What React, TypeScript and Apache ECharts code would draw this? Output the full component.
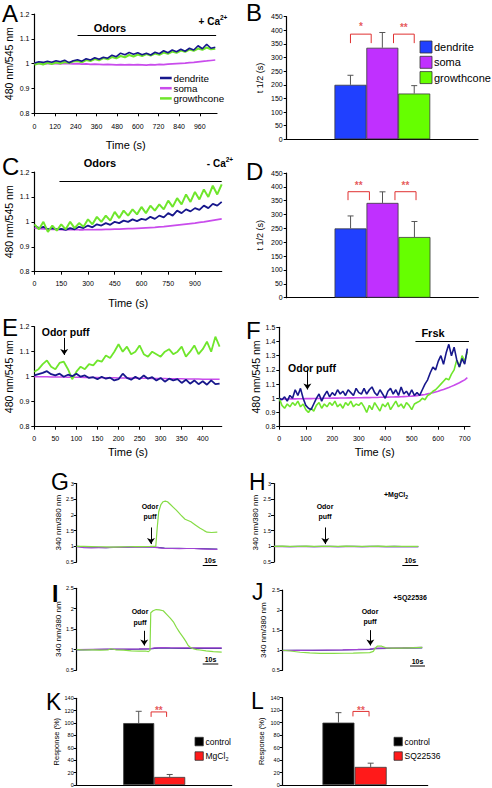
import React, { useEffect, useRef } from 'react';
import * as echarts from 'echarts';

const FONT = 'Liberation Sans, Arial, sans-serif';

const COL_DEND = '#17178c';
const COL_SOMA = '#c94cec';
const COL_GROW = '#6fe62c';
const COL_DEND2 = '#35358f';
const COL_SOMA2 = '#a144d4';
const COL_GROW2 = '#86dc46';
const BAR_COLORS = ['#2040ff', '#c030ff', '#66ff00'];
const KL_COLORS = ['#000000', '#ff1a1a'];
const COL_SIG = '#e03030';

// ===== Panel A (+Ca2+), sampled every 25 s =====
const A_STEP = 25;
const A_DENDRITE = [
  1.003, 1.008, 1.005, 1.010, 1.006, 1.012, 1.008, 1.014, 1.004, 1.012,
  1.016, 1.010, 1.020, 1.015, 1.024, 1.018, 1.026, 1.022, 1.034, 1.028,
  1.042, 1.036, 1.045, 1.038, 1.044, 1.036, 1.042, 1.035, 1.046, 1.040,
  1.052, 1.044, 1.055, 1.048, 1.058, 1.050, 1.062, 1.055, 1.072, 1.060,
  1.078, 1.062, 1.066];
const A_GROWTH = [
  0.996, 1.002, 0.997, 1.004, 0.999, 1.005, 1.001, 1.007, 1.003, 1.009,
  1.011, 1.006, 1.015, 1.011, 1.019, 1.014, 1.023, 1.018, 1.027, 1.022,
  1.031, 1.026, 1.035, 1.029, 1.037, 1.031, 1.039, 1.033, 1.041, 1.036,
  1.045, 1.040, 1.049, 1.044, 1.053, 1.048, 1.057, 1.052, 1.061, 1.056,
  1.065, 1.058, 1.060];
const A_SOMA = [
  1.000, 1.001, 0.999, 1.000, 1.001, 1.000, 0.999, 1.001, 1.000, 0.999,
  1.000, 0.998, 0.999, 0.997, 0.998, 0.997, 0.996, 0.997, 0.996, 0.995,
  0.996, 0.995, 0.996, 0.995, 0.996, 0.995, 0.994, 0.996, 0.995, 0.997,
  0.996, 0.998, 0.999, 1.000, 1.001, 1.002, 1.004, 1.005, 1.007, 1.009,
  1.011, 1.013, 1.015];

// ===== Panel C (-Ca2+), sampled every 25 s =====
const C_STEP = 25;
const C_GROWTH = [
  0.99, 0.97, 1.00, 0.96, 0.985, 0.965, 0.99, 0.97, 1.00, 0.975,
  0.995, 0.98, 1.01, 0.99, 1.02, 1.00, 1.025, 1.005, 1.04, 1.015,
  1.045, 1.025, 1.05, 1.03, 1.06, 1.035, 1.065, 1.045, 1.07, 1.05,
  1.085, 1.06, 1.095, 1.07, 1.11, 1.08, 1.12, 1.09, 1.13, 1.10,
  1.145, 1.11, 1.15];
const C_DENDRITE = [
  0.985, 0.975, 0.98, 0.97, 0.975, 0.97, 0.972, 0.968, 0.975, 0.97,
  0.98, 0.975, 0.985, 0.978, 0.99, 0.985, 0.995, 0.988, 1.0, 0.995,
  1.005, 1.0, 1.01, 1.003, 1.012, 1.008, 1.02, 1.012, 1.025, 1.018,
  1.035, 1.025, 1.045, 1.035, 1.05, 1.042, 1.055, 1.048, 1.065, 1.055,
  1.072, 1.065, 1.08];
const C_SOMA = [
  0.975, 0.973, 0.972, 0.971, 0.970, 0.970, 0.969, 0.969, 0.968, 0.969,
  0.968, 0.968, 0.969, 0.968, 0.969, 0.969, 0.970, 0.970, 0.971, 0.971,
  0.972, 0.973, 0.973, 0.974, 0.975, 0.976, 0.977, 0.978, 0.980, 0.981,
  0.983, 0.985, 0.987, 0.989, 0.991, 0.993, 0.995, 0.998, 1.000, 1.003,
  1.006, 1.009, 1.012];

// ===== Panel E (odor puff), sampled every 10 s =====
const E_STEP = 10;
const E_GROWTH = [
  1.02, 1.03, 1.05, 1.065, 1.04, 1.03, 1.055, 1.06, 1.03, 0.99,
  1.02, 1.04, 1.03, 1.05, 1.045, 1.065, 1.06, 1.085, 1.075, 1.1,
  1.13, 1.1, 1.12, 1.09, 1.1, 1.125, 1.09, 1.08, 1.1, 1.09,
  1.08, 1.1, 1.11, 1.09, 1.1, 1.12, 1.08, 1.1, 1.125, 1.09,
  1.11, 1.14, 1.1, 1.16, 1.12];
const E_DENDRITE = [
  1.005, 1.01, 1.015, 1.022, 1.01, 1.005, 1.012, 1.0, 1.008, 1.002,
  1.012, 1.0, 1.005, 0.995, 0.998, 0.99, 1.0, 0.992, 0.996, 0.985,
  0.99, 1.012, 0.995, 0.988, 1.0, 0.99, 1.005, 0.992, 0.998, 0.985,
  0.995, 0.98, 0.992, 0.985, 0.99, 0.975, 0.988, 0.972, 0.985, 0.97,
  0.982, 0.968, 0.985, 0.97, 0.972];
const E_SOMA = [
  1.0, 1.0, 1.0, 1.0, 0.999, 0.999, 0.999, 0.999, 0.998, 0.998,
  0.998, 0.998, 0.997, 0.997, 0.997, 0.997, 0.996, 0.996, 0.996, 0.996,
  0.995, 0.995, 0.995, 0.995, 0.994, 0.994, 0.994, 0.994, 0.993, 0.993,
  0.993, 0.993, 0.992, 0.992, 0.992, 0.992, 0.991, 0.991, 0.991, 0.991,
  0.990, 0.990, 0.990, 0.990, 0.990];

// ===== Panel F (odor puff + forskolin), sampled every 10 s =====
const F_STEP = 10;
const F_DENDRITE = [
  1.0, 0.99, 1.01, 0.98, 1.02, 1.0, 1.06, 1.02, 1.07, 1.0,
  0.95, 0.93, 0.92, 0.96, 1.0, 1.03, 0.98, 1.02, 1.05, 1.01,
  1.04, 1.02, 1.06, 1.03, 1.05, 1.02, 1.06, 1.04, 1.02, 1.07,
  1.04, 1.03, 1.07, 1.03, 1.06, 1.08, 1.04, 1.02, 1.06, 1.03,
  1.0, 1.05, 1.07, 1.03, 1.06, 1.02, 1.08, 1.03, 1.05, 1.02,
  1.06, 1.02, 1.04, 1.02, 1.06, 1.1, 1.13, 1.18, 1.22, 1.2,
  1.26, 1.3, 1.24, 1.32, 1.38, 1.3, 1.36, 1.27, 1.22, 1.28,
  1.24, 1.35];
const F_GROWTH = [
  1.0, 0.95, 0.93, 0.96, 0.94, 0.97, 0.95, 0.98, 0.94, 0.96,
  0.92, 0.9, 0.93, 0.91, 0.95, 0.97, 0.93, 0.96, 0.94, 0.97,
  0.95, 0.98, 0.94, 0.96, 0.93, 0.97, 0.95, 0.98, 0.94, 0.96,
  0.95, 0.97, 0.94, 0.9, 0.95, 0.92, 0.97, 0.94, 0.91, 0.96,
  0.94, 0.97, 0.92, 0.95, 0.98, 0.94, 0.96, 0.93, 0.97, 0.95,
  0.92, 0.96, 0.97, 0.98, 1.0, 0.99, 1.02, 1.03, 1.05, 1.06,
  1.08, 1.1, 1.12, 1.14, 1.13, 1.17, 1.2, 1.27, 1.22, 1.3,
  1.26, 1.33];
const F_SOMA = [
  0.995, 0.995, 0.995, 0.995, 0.996, 0.996, 0.996, 0.997, 0.997, 0.997,
  0.998, 0.998, 0.998, 0.999, 0.999, 0.999, 1.0, 1.0, 1.0, 1.0,
  1.001, 1.001, 1.001, 1.002, 1.002, 1.002, 1.003, 1.003, 1.003, 1.004,
  1.004, 1.004, 1.005, 1.005, 1.005, 1.006, 1.006, 1.006, 1.007, 1.007,
  1.008, 1.008, 1.009, 1.009, 1.01, 1.01, 1.011, 1.012, 1.013, 1.014,
  1.015, 1.017, 1.019, 1.021, 1.024, 1.027, 1.031, 1.035, 1.04, 1.045,
  1.05, 1.056, 1.062, 1.069, 1.076, 1.084, 1.092, 1.101, 1.11, 1.12,
  1.13, 1.145];

// ===== Panels B / D: t1/2 bars =====
const COMPARTMENTS = ['dendrite', 'soma', 'growthcone'];
const B_MEAN = [200, 336, 168];
const B_SEM = [35, 56, 29];
const B_SIG = ['*', '**'];
const D_MEAN = [250, 342, 219];
const D_SEM = [45, 40, 56];
const D_SIG = ['**', '**'];

// ===== Panel G (fura-2, odor puff) =====
const G_GREEN_T = [0, 5, 10, 15, 20, 25, 30, 35, 40, 45, 50, 54, 55, 56, 57.5, 59, 60.5, 62, 64, 66, 68, 71, 74, 76, 78, 81, 84, 87, 89, 92, 96];
const G_GREEN = [1.0, 0.995, 0.99, 0.985, 0.98, 0.975, 0.98, 0.985, 0.99, 0.99, 0.995, 1.0, 1.6, 2.1, 2.33, 2.42, 2.44, 2.42, 2.33, 2.24, 2.15, 2.0, 1.86, 1.82, 1.78, 1.68, 1.58, 1.5, 1.45, 1.44, 1.45];
const G_LOW_T = [0, 5, 10, 15, 20, 25, 30, 35, 40, 45, 50, 55, 60, 65, 70, 75, 80, 85, 90, 96];
const G_PURPLE = [0.99, 0.96, 0.95, 0.955, 0.96, 0.97, 0.965, 0.97, 0.975, 0.975, 0.98, 0.96, 0.93, 0.93, 0.925, 0.93, 0.93, 0.92, 0.91, 0.9];
const G_BLUE = [1.0, 0.98, 0.97, 0.965, 0.96, 0.965, 0.97, 0.975, 0.98, 0.98, 0.985, 0.965, 0.94, 0.935, 0.935, 0.93, 0.93, 0.925, 0.92, 0.91];

// ===== Panel H (+MgCl2) =====
const H_T = [0, 5, 10, 15, 20, 25, 30, 35, 40, 45, 50, 55, 60, 65, 70, 75, 80, 85, 90];
const H_GREEN = [1.0, 1.005, 0.995, 1.0, 1.005, 0.995, 1.0, 1.0, 0.995, 1.005, 1.0, 0.995, 1.0, 1.005, 0.995, 1.0, 0.995, 0.995, 0.995];
const H_PURPLE = [0.99, 0.99, 0.985, 0.99, 0.99, 0.985, 0.99, 0.99, 0.985, 0.99, 0.99, 0.985, 0.99, 0.99, 0.985, 0.99, 0.985, 0.985, 0.985];
const H_BLUE = [0.995, 0.995, 0.99, 0.995, 0.995, 0.99, 0.995, 0.995, 0.99, 0.995, 0.995, 0.99, 0.995, 0.995, 0.99, 0.995, 0.99, 0.99, 0.99];

// ===== Panel I =====
const I_GREEN_T = [0, 5, 10, 15, 20, 22, 25, 30, 35, 40, 44, 46, 47, 47.5, 49, 51, 53, 55.5, 58, 60, 62, 64, 66, 68.3, 70, 71.5, 73, 74.7, 77, 79, 83, 87.6, 93];
const I_GREEN = [1.0, 0.99, 0.995, 0.985, 0.99, 1.02, 0.995, 0.985, 0.97, 0.96, 0.965, 0.95, 0.98, 1.9, 1.95, 1.98, 1.97, 1.95, 1.85, 1.77, 1.68, 1.54, 1.42, 1.3, 1.2, 1.1, 1.05, 1.02, 1.0, 0.99, 0.97, 0.95, 0.94];
const I_LOW_T = [0, 10, 20, 30, 40, 47, 50, 55, 60, 70, 80, 93];
const I_PURPLE = [1.0, 1.005, 1.01, 1.01, 1.015, 1.02, 1.04, 1.05, 1.045, 1.04, 1.04, 1.04];
const I_BLUE = [0.995, 1.0, 1.005, 1.005, 1.01, 1.015, 1.03, 1.04, 1.035, 1.03, 1.03, 1.03];

// ===== Panel J (+SQ22536) =====
const J_GREEN_T = [0, 5, 11.6, 18, 25, 34, 41, 47, 52, 58, 60.4, 61.6, 63, 66, 69, 73, 78, 85, 93];
const J_GREEN = [1.0, 0.98, 0.95, 0.935, 0.92, 0.92, 0.925, 0.93, 0.935, 0.94, 0.97, 1.05, 1.1, 1.1, 1.06, 1.05, 1.05, 1.06, 1.07];
const J_LOW_T = [0, 10, 20, 30, 40, 50, 58, 62, 70, 80, 93];
const J_PURPLE = [0.99, 0.995, 1.0, 1.005, 1.01, 1.02, 1.03, 1.05, 1.05, 1.06, 1.07];
const J_BLUE = [1.0, 0.995, 0.995, 1.0, 1.005, 1.015, 1.02, 1.04, 1.045, 1.05, 1.06];

// ===== Panels K / L: response bars =====
const K_GROUPS = ['control', 'MgCl2'];
const K_MEAN = [100, 13];
const K_SEM = [19, 4];
const L_GROUPS = ['control', 'SQ22536'];
const L_MEAN = [100, 29];
const L_SEM = [16, 6];

function buildOption() {
  const grid: any[] = [];
  const xAxis: any[] = [];
  const yAxis: any[] = [];
  const series: any[] = [];
  const elements: any[] = [];

  const panel = (rect: any, x: any, y: any) => {
    const gi = grid.length;
    grid.push(rect);
    xAxis.push({ gridIndex: gi, ...x });
    yAxis.push({ gridIndex: gi, ...y });
    return gi;
  };
  const axisLine = (w = 1.2) => ({ show: true, onZero: false, lineStyle: { color: '#000', width: w } });
  const tick = (len = 3) => ({ show: true, length: len, lineStyle: { color: '#000', width: 1 } });
  const timeX = (max: number, interval: number, nameGap: number, margin: number) => ({
    type: 'value', min: 0, max, interval,
    axisLine: axisLine(), axisTick: tick(3),
    axisLabel: { fontSize: 7, color: '#000', margin, showMaxLabel: false, fontFamily: FONT },
    splitLine: { show: false },
    name: 'Time (s)', nameLocation: 'middle', nameGap,
    nameTextStyle: { fontSize: 11, color: '#000', fontFamily: FONT },
  });
  const valY = (min: number, max: number, interval: number, name: string, nameGap: number, nameSize: number, labelSize: number, margin: number) => ({
    type: 'value', min, max, interval,
    axisLine: axisLine(), axisTick: tick(3),
    axisLabel: { fontSize: labelSize, color: '#000', margin, fontFamily: FONT },
    splitLine: { show: false },
    name, nameLocation: 'middle', nameGap,
    nameTextStyle: { fontSize: nameSize, color: '#000', fontFamily: FONT },
  });
  const hiddenX = (min: number, max: number) => ({ type: 'value', min, max, show: false });
  const barX = (min: number, max: number) => ({
    type: 'value', min, max, axisLine: axisLine(), axisTick: { show: false },
    axisLabel: { show: false }, splitLine: { show: false },
  });
  const uniform = (step: number, vals: number[]) => vals.map((v, i) => [i * step, v]);
  const paired = (ts: number[], vals: number[]) => ts.map((t, i) => [t, vals[i]]);
  const line = (gi: number, name: string, pts: number[][], color: string, width: number, z: number, extra: any = {}) => ({
    type: 'line', name, xAxisIndex: gi, yAxisIndex: gi, data: pts, symbol: 'none', showSymbol: false,
    lineStyle: { color, width }, itemStyle: { color }, z, silent: true, ...extra,
  });
  const marks = (segs: any[]) => ({
    silent: true, animation: false, label: { show: false },
    lineStyle: { color: '#000', width: 1, type: 'solid' },
    emphasis: { disabled: true },
    data: segs.map(([x1, y1, x2, y2, arrow]) => [
      { coord: [x1, y1], symbol: 'none' },
      { coord: [x2, y2], symbol: arrow ? 'arrow' : 'none', symbolSize: 6 },
    ]),
  });
  const errRender = (params: any, api: any) => {
    const top = api.coord([api.value(0), api.value(1)]);
    const end = api.coord([api.value(0), api.value(2)]);
    return {
      type: 'group',
      children: [
        { type: 'line', shape: { x1: top[0], y1: top[1], x2: end[0], y2: end[1] }, style: { stroke: '#555', lineWidth: 1 } },
        { type: 'line', shape: { x1: end[0] - 3, y1: end[1], x2: end[0] + 3, y2: end[1] }, style: { stroke: '#555', lineWidth: 1 } },
      ],
    };
  };
  const addBars = (gi: number, names: string[], means: number[], sems: number[], colors: string[], width: number) => {
    names.forEach((n, i) => series.push({
      type: 'bar', name: n, xAxisIndex: gi, yAxisIndex: gi, data: [[i + 1, means[i]]],
      barWidth: width, barGap: '-100%', silent: true, z: 2,
      itemStyle: { color: colors[i], borderColor: '#3a3a3a', borderWidth: 0.8 },
    }));
    series.push({
      type: 'custom', xAxisIndex: gi, yAxisIndex: gi, silent: true, z: 3,
      data: means.map((m, i) => [i + 1, m, m + sems[i]]), renderItem: errRender,
    });
  };
  const addBracket = (gi: number, x1: number, x2: number, base: number, top: number, label: string, labelY: number) => {
    series.push({
      type: 'line', xAxisIndex: gi, yAxisIndex: gi, symbol: 'none', silent: true, z: 4,
      data: [[x1, base], [x1, top], [x2, top], [x2, base]],
      lineStyle: { color: COL_SIG, width: 1 },
    });
    series.push({
      type: 'scatter', xAxisIndex: gi, yAxisIndex: gi, silent: true, z: 4,
      data: [[(x1 + x2) / 2, labelY]], symbolSize: 1, itemStyle: { color: 'rgba(0,0,0,0)' },
      label: { show: true, position: 'inside', formatter: label, color: COL_SIG, fontSize: 10, fontWeight: 'bold', fontFamily: FONT, offset: [0, 2.5] },
    });
  };
  const txt = (x: number, y: number, text: string, fontSize: number, extra: any = {}) => {
    const align = extra.align || 'center';
    return {
      type: 'text', x, y, silent: true,
      style: {
        text, fontSize, fontFamily: FONT, fill: extra.fill || '#000', fontWeight: extra.bold ? 'bold' : 'normal',
        align, textAlign: align, verticalAlign: 'middle', textVerticalAlign: 'middle',
      },
    };
  };
  const hline = (x1: number, x2: number, y: number, w = 1, color = '#000') => ({
    type: 'line', silent: true, shape: { x1, y1: y, x2, y2: y }, style: { stroke: color, lineWidth: w },
  });
  const box = (x: number, y: number, w: number, h: number, fill: string) => ({
    type: 'rect', silent: true, shape: { x, y, width: w, height: h }, style: { fill, stroke: '#333', lineWidth: 0.8 },
  });

  // ---- A ----
  const gA = panel({ left: 34.5, top: 14, width: 182.5, height: 99.3 }, timeX(1060, 120, 26, 10), valY(0.8, 1.2, 0.1, '480 nm/545 nm', 20, 10.5, 7, 5));
  series.push(line(gA, 'soma', uniform(A_STEP, A_SOMA), COL_SOMA, 1.6, 2, { markLine: marks([[250, 1.116, 1055, 1.116, false]]) }));
  series.push(line(gA, 'growthcone', uniform(A_STEP, A_GROWTH), COL_GROW, 2.2, 3));
  series.push(line(gA, 'dendrite', uniform(A_STEP, A_DENDRITE), COL_DEND, 1.6, 4));

  // ---- B ----
  const gB = panel({ left: 286.7, top: 16.7, width: 191.3, height: 122.6 }, barX(-1, 5), valY(0, 450, 50, 't 1/2 (s)', 22, 9, 7, 4));
  addBars(gB, COMPARTMENTS, B_MEAN, B_SEM, BAR_COLORS, 32);
  addBracket(gB, 1, 1.65, 353, 386, B_SIG[0], 423);
  addBracket(gB, 2.35, 3, 353, 386, B_SIG[1], 420);

  // ---- C ----
  const gC = panel({ left: 34.5, top: 172, width: 187.2, height: 99.7 }, timeX(1050, 150, 26, 8), valY(0.8, 1.2, 0.1, '480 nm/545 nm', 20, 10.5, 7, 5));
  series.push(line(gC, 'soma', uniform(C_STEP, C_SOMA), COL_SOMA, 1.6, 2, { markLine: marks([[140, 1.161, 1050, 1.161, false]]) }));
  series.push(line(gC, 'dendrite', uniform(C_STEP, C_DENDRITE), COL_DEND, 1.8, 3));
  series.push(line(gC, 'growthcone', uniform(C_STEP, C_GROWTH), COL_GROW, 2, 4));

  // ---- D ----
  const gD = panel({ left: 286.7, top: 173, width: 191.6, height: 124.7 }, barX(-1, 5), valY(0, 450, 50, 't 1/2 (s)', 22, 9, 7, 4));
  addBars(gD, COMPARTMENTS, D_MEAN, D_SEM, BAR_COLORS, 32);
  addBracket(gD, 0.92, 1.59, 352, 382.5, D_SIG[0], 415);
  addBracket(gD, 2.39, 3.05, 352, 382.5, D_SIG[1], 415);

  // ---- E ----
  const gE = panel({ left: 34.3, top: 326.7, width: 187.4, height: 100 }, timeX(445, 50, 19.5, 8), valY(0.8, 1.2, 0.1, '480 nm/545 nm', 20, 10.5, 7, 5));
  series.push(line(gE, 'soma', uniform(E_STEP, E_SOMA), COL_SOMA, 1.6, 2, { markLine: marks([[71, 1.155, 71, 1.087, true]]) }));
  series.push(line(gE, 'growthcone', uniform(E_STEP, E_GROWTH), COL_GROW, 1.8, 3));
  series.push(line(gE, 'dendrite', uniform(E_STEP, E_DENDRITE), COL_DEND, 1.8, 4));

  // ---- F ----
  const gF = panel({ left: 279.3, top: 327.3, width: 190.7, height: 99.4 }, timeX(720, 100, 19.5, 8), valY(0.8, 1.5, 0.1, '480 nm/545 nm', 16, 10.5, 7, 4));
  series.push(line(gF, 'soma', uniform(F_STEP, F_SOMA), COL_SOMA, 1.6, 2, { markLine: marks([[514, 1.4, 716, 1.4, false], [106, 1.197, 106, 1.062, true]]) }));
  series.push(line(gF, 'growthcone', uniform(F_STEP, F_GROWTH), COL_GROW, 1.6, 3));
  series.push(line(gF, 'dendrite', uniform(F_STEP, F_DENDRITE), COL_DEND, 1.6, 4));

  // ---- G ----
  const gG = panel({ left: 76.7, top: 483.5, width: 140.6, height: 78.5 }, hiddenX(0, 96), valY(0.5, 3, 0.5, '340 nm/380 nm', 13, 8, 5.5, 3));
  series.push(line(gG, 'blue', paired(G_LOW_T, G_BLUE), COL_DEND2, 1.2, 2, { markLine: marks([[50.7, 1.6, 50.7, 1.07, true]]) }));
  series.push(line(gG, 'purple', paired(G_LOW_T, G_PURPLE), COL_SOMA2, 1.2, 3));
  series.push(line(gG, 'green', paired(G_GREEN_T, G_GREEN), COL_GROW2, 1.2, 4));

  // ---- H ----
  const gH = panel({ left: 274, top: 483.5, width: 144.3, height: 78.5 }, hiddenX(0, 90), valY(0.5, 3, 0.5, '340 nm/380 nm', 11, 8, 5.5, 3));
  series.push(line(gH, 'blue', paired(H_T, H_BLUE), COL_DEND2, 1.2, 2, { markLine: marks([[32, 1.6, 32, 1.07, true]]) }));
  series.push(line(gH, 'purple', paired(H_T, H_PURPLE), COL_SOMA2, 1.2, 3));
  series.push(line(gH, 'green', paired(H_T, H_GREEN), COL_GROW2, 1.2, 4));

  // ---- I ----
  const gI = panel({ left: 76.7, top: 588.3, width: 145, height: 81.7 }, hiddenX(0, 93), valY(0.5, 2.5, 0.5, '340 nm/380 nm', 13, 8, 5.5, 3));
  series.push(line(gI, 'blue', paired(I_LOW_T, I_BLUE), COL_DEND2, 1.2, 2, { markLine: marks([[43.3, 1.46, 43.3, 1.1, true]]) }));
  series.push(line(gI, 'purple', paired(I_LOW_T, I_PURPLE), COL_SOMA2, 1.2, 3));
  series.push(line(gI, 'green', paired(I_GREEN_T, I_GREEN), COL_GROW2, 1.2, 4));

  // ---- J ----
  const gJ = panel({ left: 282.7, top: 590, width: 140, height: 80.3 }, hiddenX(0, 93.3), valY(0.5, 2.5, 0.5, '340 nm/380 nm', 15, 8, 5.5, 3));
  series.push(line(gJ, 'blue', paired(J_LOW_T, J_BLUE), COL_DEND2, 1.2, 2, { markLine: marks([[58.4, 1.5, 58.4, 1.12, true]]) }));
  series.push(line(gJ, 'purple', paired(J_LOW_T, J_PURPLE), COL_SOMA2, 1.2, 3));
  series.push(line(gJ, 'green', paired(J_GREEN_T, J_GREEN), COL_GROW2, 1.2, 4));

  // ---- K ----
  const gK = panel({ left: 76.7, top: 698.3, width: 155, height: 86.7 }, barX(-1, 4), valY(0, 140, 20, 'Response (%)', 16, 7.5, 5.5, 3));
  addBars(gK, K_GROUPS, K_MEAN, K_SEM, KL_COLORS, 31);
  addBracket(gK, 1.4, 1.9, 110, 118, '**', 125);

  // ---- L ----
  const gL = panel({ left: 282.7, top: 697.7, width: 145, height: 88.3 }, barX(-0.73, 3.77), valY(0, 140, 20, 'Response (%)', 17, 7.5, 5.5, 3));
  addBars(gL, L_GROUPS, L_MEAN, L_SEM, KL_COLORS, 32);
  addBracket(gL, 1.45, 1.95, 110, 118, '**', 124);

  // ---- panel letters ----
  const big = 24, small = 23;
  elements.push(txt(2, 13.5, 'A', big, { align: 'left' }));
  elements.push(txt(246, 12.5, 'B', big, { align: 'left' }));
  elements.push(txt(2, 166.7, 'C', big, { align: 'left' }));
  elements.push(txt(246, 171.7, 'D', big, { align: 'left' }));
  elements.push(txt(2, 327.5, 'E', big, { align: 'left' }));
  elements.push(txt(246, 330, 'F', big, { align: 'left' }));
  elements.push(txt(51, 481.5, 'G', small, { align: 'left' }));
  elements.push(txt(249, 481.5, 'H', small, { align: 'left' }));
  elements.push(txt(52, 593.5, 'I', small, { align: 'left', bold: true }));
  elements.push(txt(252, 591.5, 'J', small, { align: 'left' }));
  elements.push(txt(46, 701.5, 'K', small, { align: 'left' }));
  elements.push(txt(251, 700.5, 'L', small, { align: 'left' }));

  // ---- annotations ----
  elements.push(txt(110, 28.3, 'Odors', 11, { bold: true }));
  elements.push(txt(198.6, 21, '+ Ca', 10, { bold: true, align: 'left' }));
  elements.push(txt(220, 17.5, '2+', 6.5, { bold: true, align: 'left' }));
  elements.push(txt(100, 163, 'Odors', 11, { bold: true }));
  elements.push(txt(206.8, 163, '- Ca', 10, { bold: true, align: 'left' }));
  elements.push(txt(225.7, 159.5, '2+', 6.5, { bold: true, align: 'left' }));
  elements.push(txt(65.7, 331.7, 'Odor puff', 10.5, { bold: true }));
  elements.push(txt(312, 367.7, 'Odor puff', 10.5, { bold: true }));
  elements.push(txt(433, 332.7, 'Frsk', 11, { bold: true }));
  const puff = (x: number, y1: number, y2: number) => {
    elements.push(txt(x, y1, 'Odor', 7, { bold: true }));
    elements.push(txt(x, y2, 'puff', 7, { bold: true }));
  };
  puff(150, 506.7, 516.7);
  puff(325, 506.7, 516.7);
  puff(140, 611.7, 622.3);
  puff(370, 611, 621);
  elements.push(txt(384, 494.3, '+MgCl', 7, { bold: true, align: 'left' }));
  elements.push(txt(405.2, 496.5, '2', 5, { bold: true, align: 'left' }));
  elements.push(txt(410, 597.7, '+SQ22536', 7, { bold: true }));
  const scale = (x1: number, x2: number, ty: number, ly: number) => {
    elements.push(txt((x1 + x2) / 2, ty, '10s', 7, { bold: true }));
    elements.push(hline(x1, x2, ly, 1));
  };
  scale(202.7, 217.3, 560.5, 565.5);
  scale(402.3, 418.3, 560.5, 565.5);
  scale(202.7, 218.3, 659, 664);
  scale(410, 425, 661, 666);

  // ---- legends ----
  const lineLegend = [COL_DEND, COL_SOMA, COL_GROW];
  COMPARTMENTS.forEach((n, i) => {
    const y = 78 + i * 10.2;
    elements.push(hline(160, 171.7, y, 2.5, lineLegend[i]));
    elements.push(txt(173.5, y, n, 9.8, { align: 'left' }));
  });
  COMPARTMENTS.forEach((n, i) => {
    const y = 41 + i * 15.3;
    elements.push(box(420, y, 12, 12, BAR_COLORS[i]));
    elements.push(txt(434, y + 6, n, 11, { align: 'left' }));
  });
  [0, 1].forEach((i) => {
    const y = 737.3 + i * 14.5;
    elements.push(box(195, y, 8.3, 8.5, KL_COLORS[i]));
    elements.push(box(394, y, 8.3, 8.5, KL_COLORS[i]));
    elements.push(txt(404.5, y + 4.3, L_GROUPS[i], 8.5, { align: 'left' }));
  });
  elements.push(txt(205.5, 741.6, K_GROUPS[0], 8.5, { align: 'left' }));
  elements.push(txt(205.5, 756.1, 'MgCl', 8.5, { align: 'left' }));
  elements.push(txt(225.5, 758.6, '2', 5.5, { align: 'left' }));

  return {
    animation: false,
    backgroundColor: '#ffffff',
    textStyle: { fontFamily: FONT },
    grid, xAxis, yAxis, series,
    graphic: { elements },
  };
}

export default function App() {
  const ref = useRef<HTMLDivElement>(null);
  useEffect(() => {
    if (!ref.current) return;
    const chart = echarts.init(ref.current, null, { renderer: 'svg' });
    chart.setOption(buildOption() as any);
    return () => chart.dispose();
  }, []);
  return <div ref={ref} style={{ position: 'fixed', left: 0, top: 0, width: 492, height: 788, background: '#fff' }} />;
}
